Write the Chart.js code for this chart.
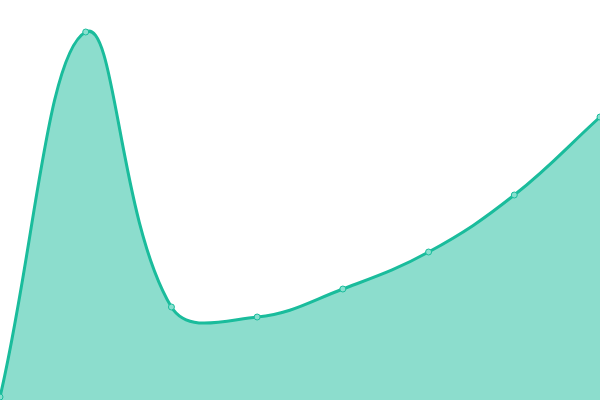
<!DOCTYPE html>
<html>
<head>
<meta charset="utf-8">
<script src="https://cdn.jsdelivr.net/npm/chart.js@4"></script>
<style>
  html, body { margin: 0; padding: 0; background: #fff; }
  #wrap { width: 600px; height: 400px; }
</style>
</head>
<body>
<div id="wrap"><canvas id="chart"></canvas></div>
<script>
const labels = ['1', '2', '3', '4', '5', '6', '7', '8'];
const values = [3, 368, 93, 83, 111, 148, 205, 283];

new Chart(document.getElementById('chart'), {
    type: 'line',
    data: {
        labels: labels,
        datasets: [{
            data: values,
            borderColor: '#1abc9c',
            backgroundColor: 'rgba(26, 188, 156, 0.5)',
            borderWidth: 3,
            tension: 0.4,
            fill: true,
            pointRadius: 3,
            pointBorderWidth: 1,
            pointBackgroundColor: '#88e0cf',
            pointBorderColor: '#1abc9c'
        }]
    },
    options: {
        responsive: true,
        maintainAspectRatio: false,
        animation: false,
        layout: { padding: 0, autoPadding: false },
        scales: {
            x: { display: false },
            y: { display: false, min: 0, max: 400 }
        },
        plugins: { legend: { display: false }, tooltip: { enabled: false } }
    }
});
</script>
</body>
</html>
